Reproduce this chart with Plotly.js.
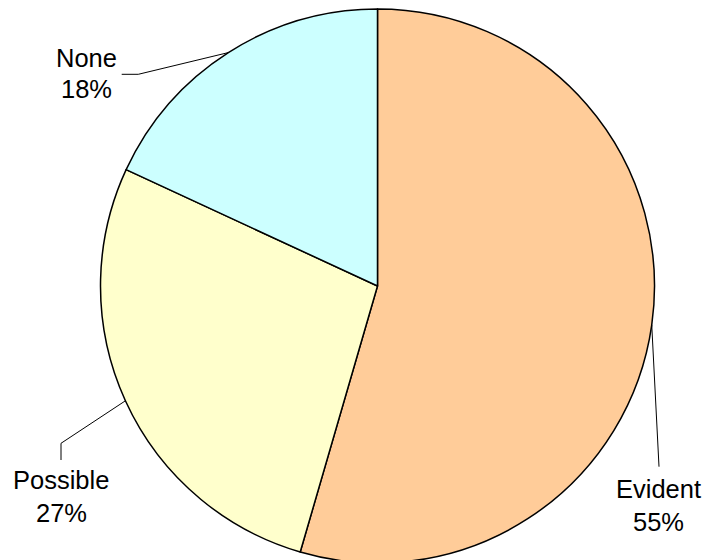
<!DOCTYPE html>
<html>
<head>
<meta charset="utf-8">
<script src="https://cdn.plot.ly/plotly-3.0.1.min.js"></script>
<style>
html,body{margin:0;padding:0;overflow:hidden;background:#fff;}
#chart{width:703px;height:580px;}
</style>
</head>
<body>
<div id="chart"></div>
<script>
// ---- data ----
const categories = ["Evident", "Possible", "None"];
const values = [54.5, 27.4, 18.1];
const colors = ["#FFCC99", "#FFFFCC", "#CCFFFF"];

// ---- layout geometry (pixels) ----
const W = 703, H = 580;
const cx = 377.5, cy = 286, R = 277;
// label placement: elbow points, line ends and text-line centers (pixels)
const labelLayout = [
  {elbow: null, end: [659, 466.7], name: [658, 489], pct: [658, 521.7]},            // Evident
  {elbow: [61, 443.3], end: [61, 460], name: [61, 480], pct: [61, 513.3]},         // Possible
  {elbow: [138.3, 74.3], end: [121.7, 74.3], name: [86, 58.3], pct: [86.5, 89.3]}   // None
];

const px = x => x / W;
const py = y => 1 - y / H;
const font = {family: 'Liberation Sans, Arial, sans-serif', size: 25.5, color: '#000'};

const total = values.reduce((a, b) => a + b, 0);
let cum = 0;
const shapes = [], annotations = [];
values.forEach((v, i) => {
  const mid = (cum + v / 2) / total * 2 * Math.PI; // clockwise from top
  cum += v;
  const ex = cx + R * Math.sin(mid), ey = cy - R * Math.cos(mid);
  const L = labelLayout[i];
  let path = `M ${px(ex)} ${py(ey)}`;
  if (L.elbow) path += ` L ${px(L.elbow[0])} ${py(L.elbow[1])}`;
  path += ` L ${px(L.end[0])} ${py(L.end[1])}`;
  shapes.push({type: 'path', xref: 'paper', yref: 'paper', path: path,
               line: {color: '#000', width: 1}});
  [[categories[i], L.name], [Math.round(v / total * 100) + '%', L.pct]].forEach(([t, p]) => {
    annotations.push({
      xref: 'paper', yref: 'paper', x: px(p[0]), y: py(p[1]),
      xanchor: 'center', yanchor: 'middle', showarrow: false, align: 'center',
      text: t, font: font
    });
  });
});

const trace = {
  type: 'pie',
  labels: categories,
  values: values,
  sort: false,
  direction: 'clockwise',
  rotation: 0,
  textinfo: 'none',
  hoverinfo: 'label+percent',
  marker: {colors: colors, line: {color: '#000', width: 1.5}},
  domain: {x: [(cx - R) / W, (cx + R) / W], y: [1 - (cy + R) / H, 1 - (cy - R) / H]},
  showlegend: false
};

Plotly.newPlot('chart', [trace], {
  width: W, height: H,
  margin: {l: 0, r: 0, t: 0, b: 0, pad: 0},
  paper_bgcolor: '#fff',
  showlegend: false,
  shapes: shapes,
  annotations: annotations
}, {displayModeBar: false, staticPlot: true});
</script>
</body>
</html>
